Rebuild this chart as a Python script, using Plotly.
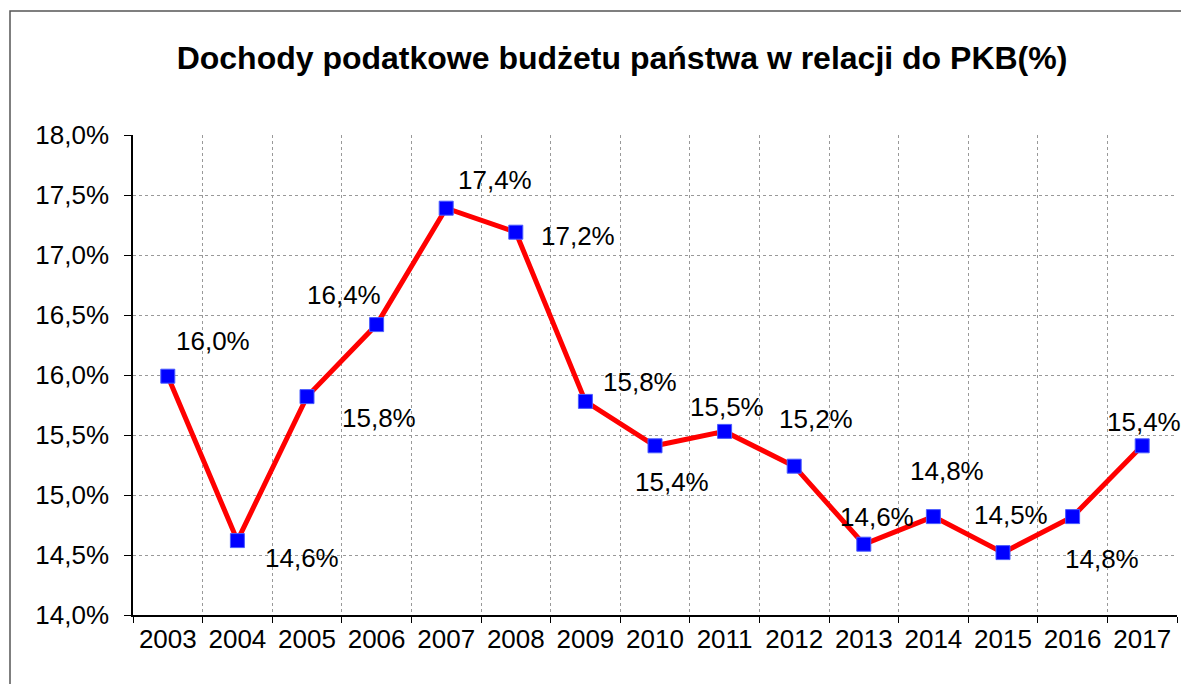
import plotly.graph_objects as go

years = ["2003", "2004", "2005", "2006", "2007", "2008", "2009", "2010",
         "2011", "2012", "2013", "2014", "2015", "2016", "2017"]
values = [15.99, 14.62, 15.82, 16.42, 17.39, 17.19, 15.78, 15.41,
          15.53, 15.24, 14.59, 14.82, 14.52, 14.82, 15.41]
y_ticks = [14.0, 14.5, 15.0, 15.5, 16.0, 16.5, 17.0, 17.5, 18.0]
# label offsets in px (dx, dy) relative to each point (dy positive = down)
label_dx = [45, 65, 72, -33, 49, 62, 55, 17, 2, 22, 13, 14, 8, 29, 2]
label_dy = [-35, 17, 21, -30, -28, 4, -19, 36, -24, -47, -27, -46, -38, 42, -24]

FONT = "Liberation Sans, Arial, sans-serif"


def pct(v):
    return f"{v:.1f}".replace(".", ",") + "%"


# page body has an 8px default margin; figure is sized/offset to compensate
OFF = 8
W, H = 1189 - OFF, 684 - OFF
L, R, T, B = 133 - OFF, 12, 135 - OFF, 69
pw, ph = W - L - R, H - T - B

def px_to_paper_x(px):
    return (px - OFF - L) / pw

def px_to_paper_y(py):
    return (H - B - (py - OFF)) / ph

n = len(years)
idx = list(range(n))
boundaries = [i - 0.5 for i in range(n + 1)]
inner_boundaries = boundaries[1:-1]
inner_y = y_ticks[1:-1]

fig = go.Figure()
# empty trace so the grid-only overlay axis is drawn
fig.add_trace(go.Scatter(x=[], y=[], xaxis="x2", yaxis="y",
                         hoverinfo="skip", showlegend=False))
fig.add_trace(go.Scatter(
    x=idx, y=values, mode="lines+markers",
    line=dict(color="#FF0000", width=5),
    marker=dict(symbol="square", size=14, color="#0000FF",
                line=dict(color="#4a5cff", width=1)),
    hoverinfo="skip", showlegend=False,
))

for i, (v, dx, dy) in enumerate(zip(values, label_dx, label_dy)):
    fig.add_annotation(
        x=i, y=v, xref="x", yref="y",
        text=pct(v),
        showarrow=False, xshift=dx, yshift=-dy,
        font=dict(family=FONT, size=26, color="#000000"),
    )

fig.add_shape(type="rect", xref="paper", yref="paper",
              x0=px_to_paper_x(10), x1=px_to_paper_x(1200),
              y0=px_to_paper_y(700), y1=px_to_paper_y(11),
              line=dict(color="#555555", width=1.5), layer="below")

grid = dict(color="#999999", dash="dot", width=1)

fig.update_layout(
    width=W, height=H,
    margin=dict(l=L, r=R, t=T, b=B),
    paper_bgcolor="white", plot_bgcolor="white",
    title=dict(text="<b>Dochody podatkowe budżetu państwa w relacji do PKB(%)</b>",
               x=(622 - OFF) / W, xanchor="center", y=1 - (58 - OFF) / H, yanchor="middle",
               font=dict(family=FONT, size=32, color="#000000")),
    font=dict(family=FONT, size=26, color="#000000"),
    xaxis=dict(range=[-0.5, n - 0.5],
               tickmode="array", tickvals=idx, ticktext=years,
               ticks="", showgrid=False,
               showline=True, linecolor="#000000", linewidth=1.5,
               minor=dict(tickmode="array", tickvals=boundaries,
                          ticks="outside", ticklen=6, tickcolor="#000000",
                          showgrid=False),
               tickfont=dict(family=FONT, size=26, color="#000000"),
               zeroline=False, fixedrange=True),
    xaxis2=dict(range=[-0.5, n - 0.5], overlaying="x", anchor="y", side="bottom",
                tickmode="array", tickvals=inner_boundaries,
                showticklabels=False, ticks="", showline=False,
                showgrid=True, gridcolor=grid["color"], griddash=grid["dash"],
                gridwidth=grid["width"], zeroline=False, fixedrange=True),
    yaxis=dict(range=[14, 18], tickmode="array", tickvals=y_ticks,
               ticktext=[pct(t) for t in y_ticks],
               showline=True, linecolor="#000000", linewidth=1.5,
               ticks="outside", ticklen=7, tickcolor="#000000",
               ticklabelstandoff=10, showgrid=False,
               minor=dict(tickmode="array", tickvals=inner_y, ticks="",
                          showgrid=True, gridcolor=grid["color"],
                          griddash=grid["dash"], gridwidth=grid["width"]),
               tickfont=dict(family=FONT, size=26, color="#000000"),
               zeroline=False, fixedrange=True),
)

fig.write_html("out.html")
